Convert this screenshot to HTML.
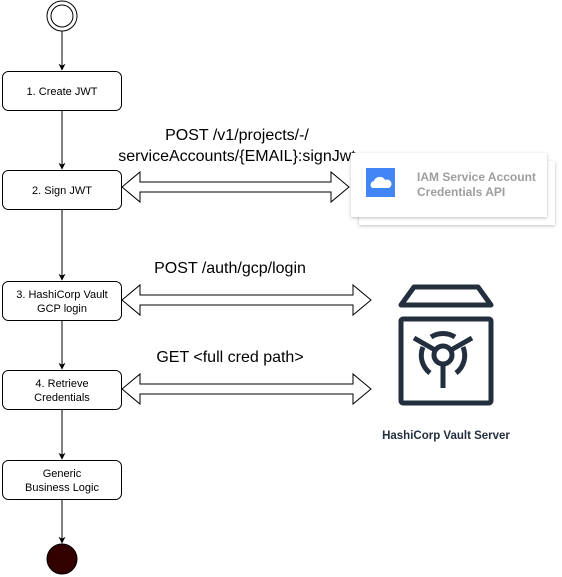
<!DOCTYPE html>
<html><head><style>body{margin:0;background:#fff}svg{display:block}</style></head><body>
<svg width="562" height="577" viewBox="0 0 562 577" xmlns="http://www.w3.org/2000/svg" font-family="Liberation Sans, Arial, sans-serif">
<defs>
<marker id="a" viewBox="0 0 10 10" refX="9" refY="5" markerWidth="7" markerHeight="7" orient="auto" markerUnits="userSpaceOnUse"><path d="M0,0 L10,5 L0,10 L3,5 z" fill="#000"/></marker>
<filter id="sh" x="-10%" y="-10%" width="130%" height="140%"><feDropShadow dx="0" dy="1" stdDeviation="1.5" flood-color="#000" flood-opacity="0.25"/></filter>
</defs>
<circle cx="62" cy="16" r="15" fill="#fff" stroke="#000"/>
<circle cx="62" cy="16" r="11" fill="#fff" stroke="#000"/>
<g stroke="#000" fill="none">
<line x1="62" y1="31" x2="62" y2="70" marker-end="url(#a)"/>
<line x1="62" y1="110" x2="62" y2="169" marker-end="url(#a)"/>
<line x1="62" y1="210" x2="62" y2="280" marker-end="url(#a)"/>
<line x1="62" y1="320" x2="62" y2="369" marker-end="url(#a)"/>
<line x1="62" y1="410" x2="62" y2="459" marker-end="url(#a)"/>
<line x1="62" y1="500" x2="62" y2="543" marker-end="url(#a)"/>
</g>
<circle cx="62" cy="559" r="15" fill="#330000" stroke="#000"/>
<g fill="#fff" stroke="#000">
<rect x="2.5" y="71.5" width="119" height="39" rx="6"/>
<rect x="2.5" y="170.5" width="119" height="39" rx="6"/>
<rect x="2.5" y="281.5" width="119" height="39" rx="6"/>
<rect x="2.5" y="370.5" width="119" height="39" rx="6"/>
<rect x="2.5" y="460.5" width="119" height="39" rx="6"/>
</g>
<g font-size="11" text-anchor="middle" fill="#000">
<text x="62" y="95">1. Create JWT</text>
<text x="62" y="194">2. Sign JWT</text>
<text x="62" y="298">3. HashiCorp Vault</text>
<text x="62" y="312">GCP login</text>
<text x="62" y="387">4. Retrieve</text>
<text x="62" y="401">Credentials</text>
<text x="62" y="477">Generic</text>
<text x="62" y="491">Business Logic</text>
</g>
<g fill="#fff" stroke="#000">
<path d="M122,187 L140,172 L140,182 L331,182 L331,172 L349,187 L331,202 L331,192 L140,192 L140,202 Z"/>
<path d="M122,300 L140,285 L140,295 L353,295 L353,285 L371,300 L353,315 L353,305 L140,305 L140,315 Z"/>
<path d="M122,389 L140,374 L140,384 L353,384 L353,374 L371,389 L353,404 L353,394 L140,394 L140,404 Z"/>
</g>
<g font-size="16" text-anchor="middle" fill="#000">
<text x="237" y="140">POST /v1/projects/-/</text>
<text x="237" y="161">serviceAccounts/{EMAIL}:signJwt</text>
<text x="230" y="273">POST /auth/gcp/login</text>
<text x="230" y="362">GET &lt;full cred path&gt;</text>
</g>
<rect x="359" y="161" width="196" height="64" fill="#fff" filter="url(#sh)"/>
<rect x="351" y="153" width="196" height="64" fill="#fff" filter="url(#sh)"/>
<rect x="366" y="168" width="29" height="29" fill="#4285f4"/>
<path d="M372,188 a4,4 0 0 1 2,-7 a6,6 0 0 1 11,-1 a4,4 0 0 1 4,8 z" fill="#fff"/>
<text x="417" y="181" font-size="12" font-weight="bold" fill="#9e9e9e">IAM Service Account</text>
<text x="417" y="196" font-size="12" font-weight="bold" fill="#9e9e9e">Credentials API</text>
<g stroke="#232f3e" stroke-width="5" fill="none">
<path d="M414,287 L478,287 L491,305 L401,305 Z" stroke-linejoin="round"/>
<rect x="401" y="319" width="90" height="84" rx="2"/>
<circle cx="443" cy="355" r="9"/>
<path d="M423,347 A22,22 0 0 0 430,373 M463,347 A22,22 0 0 1 456,373 M431,337 A22,22 0 0 1 455,337"/>
<path d="M443,364 L443,388 M435,350 L414,338 M451,350 L472,338"/>
</g>
<text x="446" y="439" font-size="11.5" font-weight="bold" text-anchor="middle" fill="#232f3e">HashiCorp Vault Server</text>
</svg>
</body></html>
